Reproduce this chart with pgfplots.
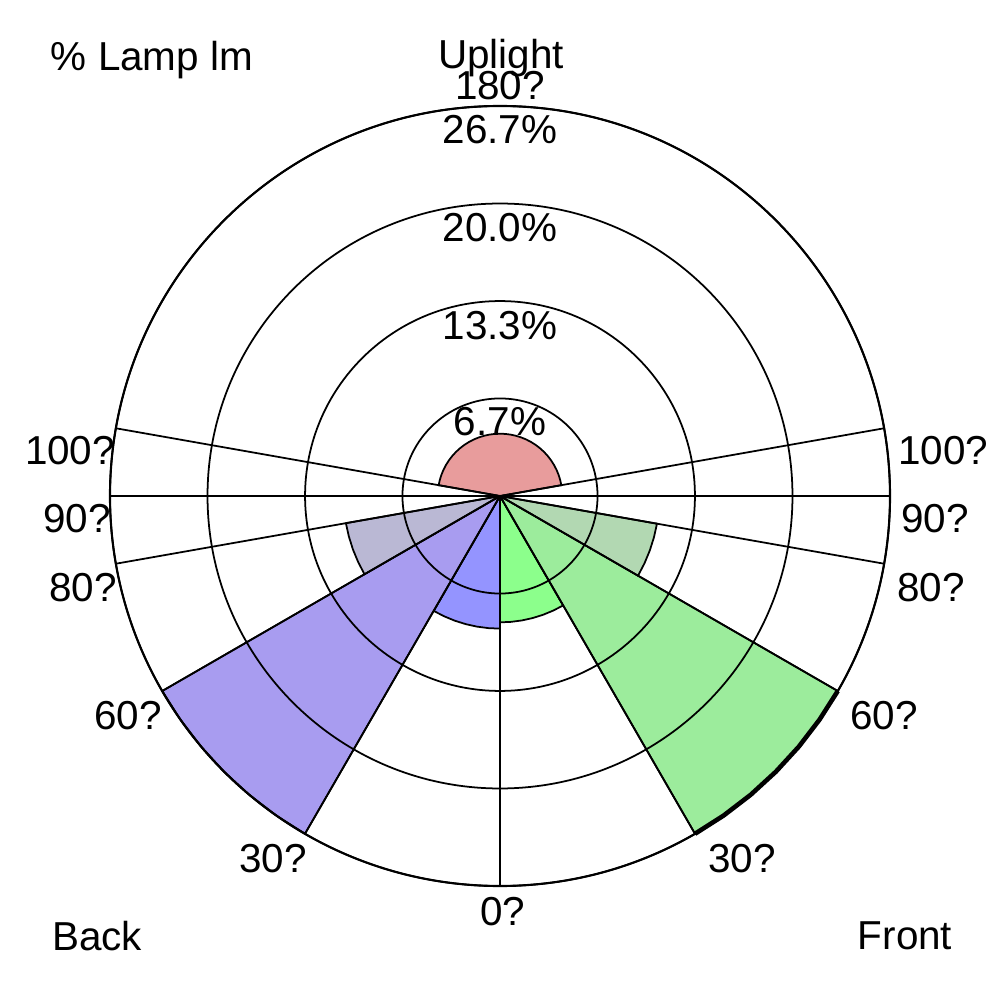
\documentclass[border=0pt]{standalone}
\usepackage{fontspec}
\setmainfont{Liberation Sans}
\usepackage{pgfplots}
\pgfplotsset{compat=1.18}
\usepgfplotslibrary{polar}

\definecolor{cUH}{RGB}{232,156,156}
\definecolor{cFL}{RGB}{140,255,140}
\definecolor{cFM}{RGB}{156,236,156}
\definecolor{cFH}{RGB}{178,216,178}
\definecolor{cBL}{RGB}{148,148,255}
\definecolor{cBM}{RGB}{168,156,240}
\definecolor{cBH}{RGB}{186,184,212}

\newcommand\lab{\fontsize{11.5}{13.8}\selectfont}

\begin{document}
\begin{tikzpicture}
\useasboundingbox (-5,-5.04) rectangle (5,4.96);
\begin{polaraxis}[
  at={(0,0)}, anchor=center,
  width=7.8cm, height=7.8cm, scale only axis,
  xmin=0, xmax=360, ymin=0, ymax=26.67,
  xtick={0,10,170,180,190,210,240,270,300,330,350},
  ytick={6.67,13.33,20,26.67},
  xticklabels={}, yticklabels={},
  major tick length=0pt,
  xmajorgrids, ymajorgrids,
  grid style={black, line width=0.5pt},
  axis line style={black, line width=0.6pt},
  axis on top,
  clip=false,
]
% uplight high (100-180 both sides)
\addplot[fill=cUH, draw=black, line width=0.5pt] coordinates {
  (0,0) (10,4.26) (15,4.26) (20,4.26) (25,4.26) (30,4.26) (35,4.26) (40,4.26)
  (45,4.26) (50,4.26) (55,4.26) (60,4.26) (65,4.26) (70,4.26) (75,4.26)
  (80,4.26) (85,4.26) (90,4.26) (95,4.26) (100,4.26) (105,4.26) (110,4.26)
  (115,4.26) (120,4.26) (125,4.26) (130,4.26) (135,4.26) (140,4.26)
  (145,4.26) (150,4.26) (155,4.26) (160,4.26) (165,4.26) (170,4.26) (0,0)};
% front low 0-30
\addplot[fill=cFL, draw=black, line width=0.5pt] coordinates {
  (0,0) (270,8.64) (275,8.64) (280,8.64) (285,8.64) (290,8.64) (295,8.64) (300,8.64) (0,0)};
% front mid 30-60
\addplot[fill=cFM, draw=black, line width=0.5pt] coordinates {
  (0,0) (300,26.67) (305,26.67) (310,26.67) (315,26.67) (320,26.67) (325,26.67) (330,26.67) (0,0)};
\addplot[draw=black, line width=1.3pt] coordinates {
  (300,26.67) (305,26.67) (310,26.67) (315,26.67) (320,26.67) (325,26.67) (330,26.67)};
% front high 60-80
\addplot[fill=cFH, draw=black, line width=0.5pt] coordinates {
  (0,0) (330,10.9) (335,10.9) (340,10.9) (345,10.9) (350,10.9) (0,0)};
% back low 0-30
\addplot[fill=cBL, draw=black, line width=0.5pt] coordinates {
  (0,0) (240,9.07) (245,9.07) (250,9.07) (255,9.07) (260,9.07) (265,9.07) (270,9.07) (0,0)};
% back mid 30-60
\addplot[fill=cBM, draw=black, line width=0.5pt] coordinates {
  (0,0) (210,26.67) (215,26.67) (220,26.67) (225,26.67) (230,26.67) (235,26.67) (240,26.67) (0,0)};
% back high 60-80
\addplot[fill=cBH, draw=black, line width=0.5pt] coordinates {
  (0,0) (190,10.7) (195,10.7) (200,10.7) (205,10.7) (210,10.7) (0,0)};
\end{polaraxis}

\node[font=\lab] at (-3.48,4.36) {\% Lamp lm};
\node[font=\lab] at (0.01,4.38) {Uplight};
\node[font=\lab] at (0,4.10) {180?};
\node[font=\lab] at (0,3.66) {26.7\%};
\node[font=\lab] at (0,2.68) {20.0\%};
\node[font=\lab] at (0,1.70) {13.3\%};
\node[font=\lab] at (0,0.74) {6.7\%};
\node[font=\lab] at (4.43,0.45) {100?};
\node[font=\lab] at (4.35,-0.23) {90?};
\node[font=\lab] at (4.31,-0.92) {80?};
\node[font=\lab] at (3.84,-2.20) {60?};
\node[font=\lab] at (2.42,-3.63) {30?};
\node[font=\lab] at (-4.30,0.45) {100?};
\node[font=\lab] at (-4.23,-0.23) {90?};
\node[font=\lab] at (-4.17,-0.92) {80?};
\node[font=\lab] at (-3.72,-2.20) {60?};
\node[font=\lab] at (-2.27,-3.63) {30?};
\node[font=\lab] at (0.03,-4.16) {0?};
\node[font=\lab] at (-4.03,-4.40) {Back};
\node[font=\lab] at (4.05,-4.40) {Front};
\end{tikzpicture}
\end{document}
